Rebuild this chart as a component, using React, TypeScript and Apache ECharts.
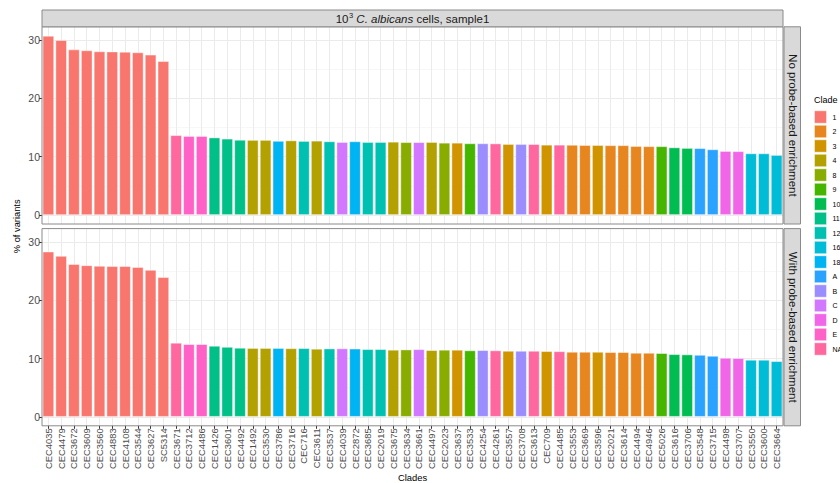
import React, { useEffect, useRef } from "react";
import * as echarts from "echarts";

const categories = [
  "CEC4035", "CEC4479", "CEC3672", "CEC3609", "CEC3560", "CEC4883", "CEC4108", "CEC3544", "CEC3627", "SC5314",
  "CEC3671", "CEC3712", "CEC4486", "CEC1426", "CEC3601", "CEC4492", "CEC1492", "CEC3530", "CEC3786", "CEC3716",
  "CEC716", "CEC3611", "CEC3537", "CEC4039", "CEC2872", "CEC3685", "CEC2019", "CEC3675", "CEC3634", "CEC3661",
  "CEC4497", "CEC2023", "CEC3637", "CEC3533", "CEC4254", "CEC4261", "CEC3557", "CEC3708", "CEC3613", "CEC709",
  "CEC4485", "CEC3553", "CEC3669", "CEC3596", "CEC2021", "CEC3614", "CEC4494", "CEC4946", "CEC5026", "CEC3616",
  "CEC3706", "CEC3548", "CEC3715", "CEC4498", "CEC3707", "CEC3550", "CEC3600", "CEC3664",
];

const clades = [
  "1", "1", "1", "1", "1", "1", "1", "1", "1", "1",
  "NA", "E", "E", "11", "11", "11", "4", "4", "18", "4",
  "12", "4", "12", "C", "18", "12", "12", "4", "8", "C",
  "4", "8", "3", "9", "B", "NA", "3", "B", "NA", "3",
  "NA", "2", "2", "3", "2", "2", "2", "2", "9", "10",
  "10", "A", "A", "D", "D", "16", "16", "16",
];

const noEnrichment = [
  30.75, 30.0, 28.4, 28.25, 28.07, 28.05, 28.0, 27.9, 27.5, 26.4,
  13.7, 13.55, 13.55, 13.3, 13.1, 12.9, 12.88, 12.88, 12.72, 12.8,
  12.7, 12.75, 12.64, 12.52, 12.64, 12.52, 12.52, 12.57, 12.5, 12.5,
  12.52, 12.4, 12.4, 12.3, 12.3, 12.28, 12.18, 12.18, 12.17, 12.06,
  12.06, 12.04, 12.0, 12.0, 11.97, 11.97, 11.83, 11.8, 11.8, 11.6,
  11.5, 11.47, 11.27, 10.98, 10.95, 10.58, 10.58, 10.3,
];

const withEnrichment = [
  28.35, 27.6, 26.2, 26.0, 25.9, 25.85, 25.85, 25.7, 25.2, 23.96,
  12.7, 12.47, 12.47, 12.18, 12.0, 11.84, 11.8, 11.8, 11.8, 11.76,
  11.78, 11.67, 11.72, 11.74, 11.7, 11.61, 11.61, 11.5, 11.55, 11.6,
  11.44, 11.5, 11.5, 11.4, 11.44, 11.4, 11.32, 11.32, 11.32, 11.27,
  11.25, 11.15, 11.15, 11.15, 11.1, 11.1, 10.98, 10.98, 10.93, 10.75,
  10.7, 10.63, 10.46, 10.12, 10.08, 9.78, 9.78, 9.55,
];

const cladeLevels = ["1", "2", "3", "4", "8", "9", "10", "11", "12", "16", "18", "A", "B", "C", "D", "E", "NA"];
const cladeColors = [
  "#F8766D", "#E7851E", "#D09400", "#B2A100", "#89AC00", "#45B500", "#00BC51", "#00C087", "#00C0B2",
  "#00BCD6", "#00B3F2", "#29A3FF", "#9C8DFF", "#D277FF", "#F166E8", "#FF61C7", "#FF689E",
];

const yTicks = [0, 10, 20, 30];
const panelLabels = ["No probe-based enrichment", "With probe-based enrichment"];

const FONT = "'Liberation Sans', Arial, Helvetica, sans-serif";

export default function App() {
  const ref = useRef<HTMLDivElement>(null);
  useEffect(() => {
    if (!ref.current) return;
    const chart = echarts.init(ref.current, null, { renderer: "svg" });

    const colorOf = (c: string) => cladeColors[cladeLevels.indexOf(c)];

    // layout
    const PL = 42;
    const PR = 783;
    const PW = PR - PL;
    const half = PW / categories.length / 2;
    const panels = [
      { top: 26.8, bottom: 224.0 },
      { top: 228.6, bottom: 425.8 },
    ];
    const dataMax = Math.max(...noEnrichment, ...withEnrichment);
    const lo = -0.05 * dataMax;
    const hi = 1.05 * dataMax;
    const yMinTick = yTicks[0];
    const yMaxTick = yTicks[yTicks.length - 1];
    const toPx = (p: { top: number; bottom: number }, v: number) =>
      p.bottom - ((v - lo) / (hi - lo)) * (p.bottom - p.top);

    const barGrids = panels.map((p) => ({
      left: PL,
      width: PW,
      top: toPx(p, yMaxTick),
      height: toPx(p, yMinTick) - toPx(p, yMaxTick),
    }));
    const lineGrids = panels.map((p) => ({
      left: PL + half,
      width: PW - 2 * half,
      top: p.top,
      height: p.bottom - p.top,
    }));

    const yAxisBar = (gi: number) => ({
      gridIndex: gi,
      type: "value",
      min: yMinTick,
      max: yMaxTick,
      interval: yTicks[1] - yTicks[0],
      axisLine: { show: false },
      axisTick: { show: true, length: 3, lineStyle: { color: "#333333", width: 1 } },
      axisLabel: { fontSize: 10.5, color: "#4D4D4D", margin: 2, fontFamily: FONT },
      splitLine: { show: true, lineStyle: { color: "#EBEBEB", width: 1 } },
      minorTick: { show: false, splitNumber: 2 },
      minorSplitLine: { show: true, lineStyle: { color: "#F3F3F3", width: 0.7 } },
    });

    const series = [noEnrichment, withEnrichment].map((vals, k) => ({
      type: "bar",
      xAxisIndex: k,
      yAxisIndex: k,
      clip: false,
      barCategoryGap: "10%",
      data: vals.map((v, i) => ({
        value: v,
        itemStyle: { color: colorOf(clades[i]), borderColor: "rgba(255,255,255,0.55)", borderWidth: 0.8 },
      })),
      z: 3,
    }));

    const graphic: any[] = [];
    panels.forEach((p) => {
      graphic.push({
        type: "rect",
        shape: { x: PL, y: p.top, width: PW, height: p.bottom - p.top },
        style: { fill: "none", stroke: "#8A8A8A", lineWidth: 1 },
        z: 10,
      });
    });
    graphic.push({
      type: "rect",
      shape: { x: PL, y: 10, width: PW, height: 16.8 },
      style: { fill: "#D9D9D9", stroke: "#8A8A8A", lineWidth: 1 },
      z: 10,
    });
    graphic.push({
      type: "text",
      x: (PL + PR) / 2,
      y: 18.6,
      z: 11,
      style: {
        text: "{n|10}{s|3}{n| }{i|C. albicans}{n| cells, sample1}",
        align: "center",
        verticalAlign: "middle",
        textAlign: "center",
        textVerticalAlign: "middle",
        fill: "#1A1A1A",
        rich: {
          n: { fontSize: 11.5, fontFamily: FONT, fill: "#1A1A1A", color: "#1A1A1A", lineHeight: 14 },
          i: { fontSize: 11.5, fontFamily: FONT, fontStyle: "italic", fill: "#1A1A1A", color: "#1A1A1A", lineHeight: 14 },
          s: { fontSize: 7.5, fontFamily: FONT, fill: "#1A1A1A", color: "#1A1A1A", verticalAlign: "top", lineHeight: 14, padding: [0, 0, 0, 0.5] },
        },
      },
    });
    panels.forEach((p, k) => {
      graphic.push({
        type: "rect",
        shape: { x: PR + 1, y: p.top, width: 16.5, height: p.bottom - p.top },
        style: { fill: "#D9D9D9", stroke: "#8A8A8A", lineWidth: 1 },
        z: 10,
      });
      graphic.push({
        type: "text",
        x: PR + 1 + 8.6,
        y: (p.top + p.bottom) / 2,
        rotation: -Math.PI / 2,
        z: 11,
        style: {
          text: panelLabels[k],
          fontSize: 11.5,
          fontFamily: FONT,
          fill: "#1A1A1A",
          align: "center",
          verticalAlign: "middle",
          textAlign: "center",
          textVerticalAlign: "middle",
        },
      });
    });
    graphic.push({
      type: "text",
      x: 17,
      y: (panels[0].top + panels[1].bottom) / 2,
      rotation: Math.PI / 2,
      style: {
        text: "% of variants",
        fontSize: 9.3,
        fontFamily: FONT,
        fill: "#000000",
        align: "center",
        verticalAlign: "middle",
        textAlign: "center",
        textVerticalAlign: "middle",
      },
    });
    graphic.push({
      type: "text",
      x: (PL + PR) / 2,
      y: 477.5,
      style: {
        text: "Clades",
        fontSize: 9.4,
        fontFamily: FONT,
        fill: "#000000",
        align: "center",
        verticalAlign: "middle",
        textAlign: "center",
        textVerticalAlign: "middle",
      },
    });
    graphic.push({
      type: "text",
      x: 814,
      y: 100,
      style: {
        text: "Clade",
        fontSize: 9,
        fontFamily: FONT,
        fill: "#000000",
        align: "left",
        verticalAlign: "middle",
        textAlign: "left",
        textVerticalAlign: "middle",
      },
    });
    cladeLevels.forEach((c, i) => {
      const cy = 117 + i * 14.5;
      graphic.push({
        type: "rect",
        shape: { x: 814.5, y: cy - 6.2, width: 12, height: 12.4 },
        style: { fill: cladeColors[i], stroke: "rgba(255,255,255,0.55)", lineWidth: 0.8 },
      });
      graphic.push({
        type: "text",
        x: 832.5,
        y: cy,
        style: {
          text: c,
          fontSize: 7,
          fontFamily: FONT,
          fill: "#000000",
          align: "left",
          verticalAlign: "middle",
          textAlign: "left",
          textVerticalAlign: "middle",
        },
      });
    });

    const option: any = {
      animation: false,
      textStyle: { fontFamily: FONT },
      grid: [...barGrids, ...lineGrids],
      xAxis: [
        { gridIndex: 0, type: "category", data: categories, show: false },
        { gridIndex: 1, type: "category", data: categories, show: false },
        {
          gridIndex: 2,
          type: "category",
          data: categories,
          boundaryGap: false,
          axisLine: { show: false },
          axisTick: { show: false },
          axisLabel: { show: false },
          splitLine: { show: true, interval: 0, lineStyle: { color: "#EBEBEB", width: 1 } },
        },
        {
          gridIndex: 3,
          type: "category",
          data: categories,
          boundaryGap: false,
          axisLine: { show: false },
          axisTick: { show: true, interval: 0, length: 3, lineStyle: { color: "#333333", width: 1 } },
          axisLabel: { show: true, interval: 0, rotate: 90, fontSize: 9.4, color: "#4D4D4D", margin: 2.5, fontFamily: FONT },
          splitLine: { show: true, interval: 0, lineStyle: { color: "#EBEBEB", width: 1 } },
        },
      ],
      yAxis: [
        yAxisBar(0),
        yAxisBar(1),
        { gridIndex: 2, type: "value", show: false, splitLine: { show: false } },
        { gridIndex: 3, type: "value", show: false, splitLine: { show: false } },
      ],
      series,
      graphic,
    };
    chart.setOption(option);
    return () => chart.dispose();
  }, []);
  return (
    <div
      ref={ref}
      style={{ position: "absolute", left: 0, top: 0, width: 840, height: 483, background: "#ffffff" }}
    />
  );
}
